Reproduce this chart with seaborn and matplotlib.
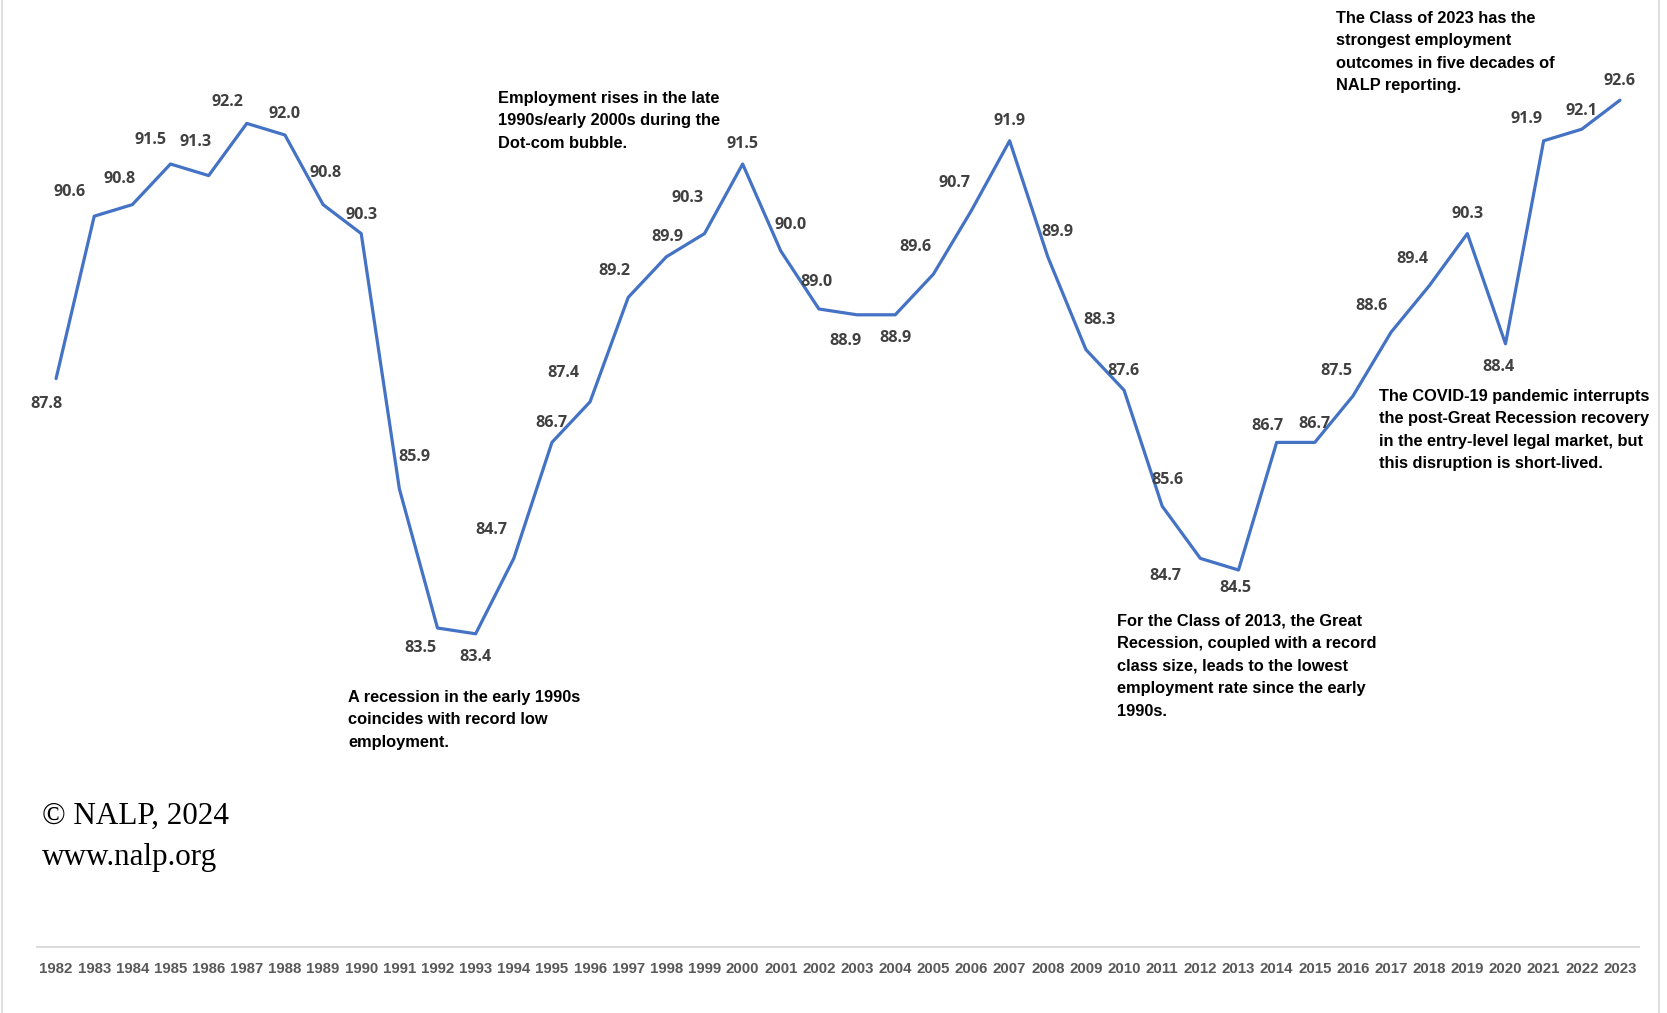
import matplotlib
matplotlib.use("Agg")
import matplotlib.pyplot as plt
import seaborn as sns
import pandas as pd
from matplotlib.lines import Line2D

years = list(range(1982, 2024))
employment_rate = [87.8, 90.6, 90.8, 91.5, 91.3, 92.2, 92.0, 90.8, 90.3, 85.9,
                   83.5, 83.4, 84.7, 86.7, 87.4, 89.2, 89.9, 90.3, 91.5, 90.0,
                   89.0, 88.9, 88.9, 89.6, 90.7, 91.9, 89.9, 88.3, 87.6, 85.6,
                   84.7, 84.5, 86.7, 86.7, 87.5, 88.6, 89.4, 90.3, 88.4, 91.9,
                   92.1, 92.6]
tick_labels = [str(y) for y in years]

# label offsets (pixels, relative to point) — layout only
label_dx = [-9, -23, -12, -19, -12, -18, 0, 2, 0, 14,
            -16, 0, -21, 0, -25, -13, 1, -16, 0, 9,
            -2, -11, 0, -17, -16, 0, 9, 13, -1, 5,
            -33, -3, -9, 0, -16, -18, -16, 0, -7, -16,
            0, 0]
label_dy = [21, -25, -27, -25, -34, -23, -22, -32, -20, -32,
            16, 19, -29, -21, -30, -27, -21, -36, -21, -27,
            -28, 22, 19, -28, -28, -21, -26, -30, -21, -27,
            14, 14, -18, -20, -26, -27, -28, -21, 19, -23,
            -20, -21]

annotations = [
    ("Employment rises in the late\n1990s/early 2000s during the\nDot-com bubble.", 498, 91),
    ("A recession in the early 1990s\ncoincides with record low\nemployment.", 348, 690),
    ("For the Class of 2013, the Great\nRecession, coupled with a record\nclass size, leads to the lowest\nemployment rate since the early\n1990s.", 1117, 614),
    ("The COVID-19 pandemic interrupts\nthe post-Great Recession recovery\nin the entry-level legal market, but\nthis disruption is short-lived.", 1379, 389),
    ("The Class of 2023 has the\nstrongest employment\noutcomes in five decades of\nNALP reporting.", 1336, 11),
]

sns.set_style("white")
plt.rcParams['font.family'] = ['Liberation Sans', 'DejaVu Sans']

W, H = 1667, 1013
fig = plt.figure(figsize=(W / 100, H / 100), dpi=100)
ax_left, ax_right = 37 / W, 1639 / W
ax_bottom, ax_top = 1 - 947 / H, 1 - 19 / H
ax = fig.add_axes([ax_left, ax_bottom, ax_right - ax_left, ax_top - ax_bottom])

df = pd.DataFrame({"year": years, "rate": employment_rate})
sns.lineplot(data=df, x="year", y="rate", ax=ax, color="#4472C4", linewidth=2.3)

ax.set_xlim(1981.5, 2023.5)
ax.set_ylim(78, 94)
ax.set_xlabel("")
ax.set_ylabel("")
ax.set_yticks([])
ax.set_xticks(years)
ax.set_xticklabels(tick_labels, fontweight='bold', fontsize=10.8, color="#595959")
ax.tick_params(axis='x', length=0, pad=11)
for s in ['left', 'right', 'top']:
    ax.spines[s].set_visible(False)
ax.spines['bottom'].set_color('#d9d9d9')
ax.spines['bottom'].set_linewidth(1.3)

f = 1.063
for yr, v, dx, dy in zip(years, employment_rate, label_dx, label_dy):
    ax.annotate(f"{v:.1f}", xy=(yr, v), xytext=(dx * f, -(dy + 2.5) * f),
                textcoords='offset pixels', ha='center', va='center',
                family=['Open Sans', 'DejaVu Sans'], fontweight='bold',
                fontsize=11.6, color="#404040")

for txt, px, py in annotations:
    fig.text(px / W, 1 - py / H, txt, ha='left', va='top', fontsize=11.8,
             fontweight='bold', color='black', linespacing=1.62)

fig.text(42 / W, 1 - 816 / H, "\u00a9 NALP, 2024", ha='left', va='center',
         family=['Liberation Serif', 'DejaVu Serif'], fontsize=22.4, color='black')
fig.text(42 / W, 1 - 857 / H, "www.nalp.org", ha='left', va='center',
         family=['Liberation Serif', 'DejaVu Serif'], fontsize=22.4, color='black')

fig.add_artist(Line2D([1.5 / W, 1.5 / W], [0, 1], transform=fig.transFigure,
                      color='#d9d9d9', linewidth=1.2))
fig.add_artist(Line2D([1659 / W, 1659 / W], [0, 1], transform=fig.transFigure,
                      color='#d9d9d9', linewidth=1.2))

fig.savefig("out.png", dpi=100, facecolor='white')
